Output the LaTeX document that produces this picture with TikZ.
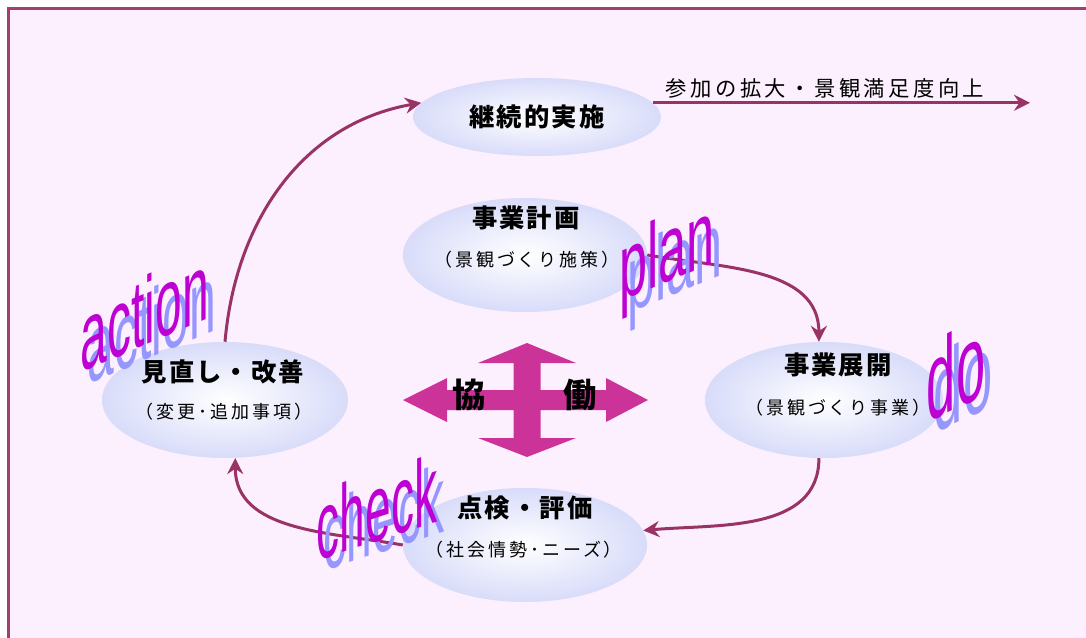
\documentclass[tikz,border=0pt]{standalone}
\usepackage{fontspec}
\usepackage{tikz}
\usetikzlibrary{shapes.geometric,arrows.meta,positioning}

\newfontfamily\jptitle{Noto Sans CJK JP}[LetterSpace=8]
\newfontfamily\jpsub{Noto Sans CJK JP}[LetterSpace=16]
\newfontfamily\wordfont{Liberation Sans}

\definecolor{framecol}{RGB}{163,62,112}
\definecolor{bgcol}{RGB}{253,240,254}
\definecolor{ellcol}{RGB}{216,220,249}
\definecolor{arrowcol}{RGB}{153,51,102}
\definecolor{crosscol}{RGB}{204,51,153}
\definecolor{wordcol}{RGB}{190,0,210}
\definecolor{shadowcol}{RGB}{150,150,255}

\begin{document}
\begin{tikzpicture}[x=0.75pt,y=0.75pt,>={Stealth[length=12pt,width=12pt,inset=4pt]},
	phase/.style={ellipse,inner sep=0pt,shade,inner color=white,outer color=ellcol},
	title/.style={font=\jptitle\bfseries\fontsize{19pt}{19pt}\selectfont},
	subtitle/.style={font=\jpsub\fontsize{13.5pt}{13.5pt}\selectfont},
	flow/.style={->,draw=arrowcol,line width=2.25pt},
	word/.style={font=\wordfont\fontsize{#1}{#1}\selectfont,text=wordcol,inner sep=0pt,transform shape},
	wordshadow/.style={word=#1,text=shadowcol}]
	
	\useasboundingbox (0,0) rectangle (1086,637);
	\fill [white] (0,0) rectangle (1086,637);
	\draw [framecol,fill=bgcol,line width=2.25pt] (8.5,-20) rectangle (1120,628.5);
	
	\node [phase,minimum width=186pt,minimum height=58.5pt] (keizoku) at (537,520) {};
	\node [phase,minimum width=183pt,minimum height=85.5pt] (keikaku) at (525,382) {};
	\node [phase,minimum width=178.5pt,minimum height=87pt] (tenkai) at (824,237) {};
	\node [phase,minimum width=184.5pt,minimum height=87pt] (minaoshi) at (225,237) {};
	\node [phase,minimum width=183pt,minimum height=85.5pt] (tenken) at (525,92) {};
	
	\node [title] (keizokut) at (537,520) {継続的実施};
	\node [title] (keikakut) at (526,419) {事業計画};
	\node [subtitle] (keikakus) at (527,377) {（景観づくり施策）};
	\node [title] (tenkait) at (838,272) {事業展開};
	\node [subtitle] (tenkais) at (838,229) {（景観づくり事業）};
	\node [title] (minaoshit) at (223,265) {見直し・改善};
	\node [subtitle] (minaoshis) at (224,225) {（変更･追加事項）};
	\node [title] (tenkent) at (525,129) {点検・評価};
	\node [subtitle] (tenkens) at (524,87) {（社会情勢･ニーズ）};
	
	\draw [flow] (minaoshi.north) to [out=85,in=190] (keizoku.173);
	\draw [flow] (keikaku.east) to [out=-10,in=90] (tenkai.95);
	\draw [flow] (tenkai.265) to [out=-90,in=5] (tenken.7);
	\draw [flow] (tenken.west) to [out=170,in=-90] (minaoshi.-80);
	
	\coordinate (goal) at (1030,534);
	\draw [flow] (keizoku.7) -- (keizoku.7 -| goal);
	\node [subtitle,font=\jpsub\fontsize{16pt}{16pt}\selectfont] (result) at (825,549) {参加の拡大・景観満足度向上};
	
	% kyodo cross
	\begin{scope}[shift={(527,237)}]
	\fill [crosscol] (0,57) -- (49,37) -- (13.5,37) -- (13.5,10) -- (79,10) -- (79,22) -- (121,0)
		-- (79,-22) -- (79,-10) -- (13.5,-10) -- (13.5,-38) -- (49,-38) -- (0,-57) -- (-49,-38)
		-- (-13.5,-38) -- (-13.5,-10) -- (-80,-10) -- (-80,-22) -- (-124,0) -- (-80,22) -- (-80,10)
		-- (-13.5,10) -- (-13.5,37) -- (-49,37) -- cycle;
	\end{scope}
	\node [font=\jptitle\bfseries\fontsize{25pt}{25pt}\selectfont] (kyo) at (469,242) {協};
	\node [font=\jptitle\bfseries\fontsize{25pt}{25pt}\selectfont] (do) at (580,242) {働};
	
	\node [wordshadow=72pt,yslant=0.42,xscale=0.5] (actions) at (152,314) {action};
	\node [word=72pt,yslant=0.42,xscale=0.5] (action) at (145,326) {action};
	\node [wordshadow=70pt,yslant=0.41,xscale=0.54] (plans) at (675,367) {plan};
	\node [word=70pt,yslant=0.41,xscale=0.54] (plan) at (667,379) {plan};
	\node [wordshadow=82pt,yslant=0.5,xscale=0.48] (dos) at (963,256) {do};
	\node [word=82pt,yslant=0.5,xscale=0.48] (dow) at (956,267) {do};
	\node [wordshadow=72pt,yslant=0.33,xscale=0.48] (checks) at (384,120) {check};
	\node [word=72pt,yslant=0.33,xscale=0.48] (check) at (377,130) {check};

\end{tikzpicture}
\end{document}
